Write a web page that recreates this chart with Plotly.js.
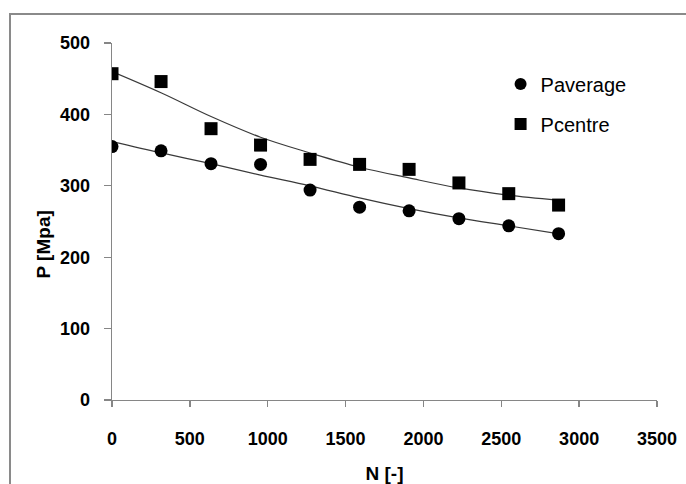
<!DOCTYPE html>
<html>
<head>
<meta charset="utf-8">
<script src="https://cdn.plot.ly/plotly-3.0.1.min.js"></script>
<style>
  html, body { margin: 0; padding: 0; background: #fff; }
  #wrap { position: relative; width: 686px; height: 484px; overflow: hidden; }
  #chart { position: absolute; left: 0; top: 0; width: 686px; height: 484px; }
  #frame { position: absolute; left: 9px; top: 13px; width: 700px; height: 500px;
           border-left: 2px solid #8a8a8a; border-top: 2px solid #8a8a8a; pointer-events: none; }
</style>
</head>
<body>
<div id="wrap">
  <div id="chart"></div>
  <div id="frame"></div>
</div>
<script>
// Data
const N = [0, 315, 636, 954, 1272, 1590, 1908, 2228, 2548, 2868];
const Paverage = [355, 349, 331, 330, 294, 270, 265, 254, 244, 233];
const Pcentre = [457, 446, 380, 357, 337, 330, 323, 304, 289, 273];

// Trend lines
const trendN = [0, 318, 636, 954, 1272, 1590, 1908, 2226, 2544, 2862];
const trendAverage = [362, 346, 331, 315, 300, 283, 268, 255, 244, 233];
const trendCentre = [460, 430, 397, 368, 346, 326, 311, 297, 287, 280];

const xTicks = [0, 500, 1000, 1500, 2000, 2500, 3000, 3500];
const yTicks = [0, 100, 200, 300, 400, 500];

const FONT = 'Liberation Sans, Arial, sans-serif';
const AXC = '#868686';

const traces = [
  { x: trendN, y: trendAverage, mode: 'lines', line: { color: '#3a3a3a', width: 1.2, shape: 'spline' },
    showlegend: false, hoverinfo: 'skip' },
  { x: trendN, y: trendCentre, mode: 'lines', line: { color: '#3a3a3a', width: 1.2, shape: 'spline' },
    showlegend: false, hoverinfo: 'skip' },
  { x: N, y: Paverage, mode: 'markers', name: 'Paverage', legendgroup: 'a',
    marker: { symbol: 'circle', size: 13, color: '#000' } },
  { x: N, y: Pcentre, mode: 'markers', name: 'Pcentre', legendgroup: 'b',
    marker: { symbol: 'square', size: 13, color: '#000' } }
];

const layout = {
  width: 686, height: 484,
  margin: { l: 112, r: 29, t: 43, b: 84 },
  paper_bgcolor: '#fff', plot_bgcolor: '#fff',
  font: { family: FONT, color: '#000' },
  showlegend: true,
  legend: {
    x: 0.713, xanchor: 'left', y: 0.94, yanchor: 'top',
    font: { family: FONT, size: 20, color: '#000' },
    tracegroupgap: 11, itemsizing: 'constant', bgcolor: 'rgba(0,0,0,0)'
  },
  xaxis: {
    range: [0, 3500], tickvals: xTicks, ticktext: xTicks.map(String),
    showline: true, linecolor: AXC, linewidth: 1.3,
    ticks: 'outside', ticklen: 6, tickcolor: AXC, tickwidth: 1.3,
    showgrid: false, zeroline: false,
    tickfont: { family: FONT, size: 18, weight: 'bold', color: '#000' },
    ticklabelstandoff: 16,
    title: { text: 'N [-]', font: { family: FONT, size: 19, weight: 'bold', color: '#000' }, standoff: 20 },
    fixedrange: true
  },
  yaxis: {
    range: [0, 500], tickvals: yTicks, ticktext: yTicks.map(String),
    showline: true, linecolor: AXC, linewidth: 1.3,
    ticks: 'outside', ticklen: 7, tickcolor: AXC, tickwidth: 1.3,
    showgrid: false, zeroline: false,
    tickfont: { family: FONT, size: 18, weight: 'bold', color: '#000' },
    ticklabelstandoff: 10,
    fixedrange: true
  },
  annotations: [
    { text: 'P [Mpa]', xref: 'paper', yref: 'paper', x: -0.1257, y: 0.437,
      xanchor: 'center', yanchor: 'middle', textangle: -90, showarrow: false,
      font: { family: FONT, size: 19, weight: 'bold', color: '#000' } }
  ]
};

Plotly.newPlot('chart', traces, layout, { displayModeBar: false, staticPlot: true });
</script>
</body>
</html>
